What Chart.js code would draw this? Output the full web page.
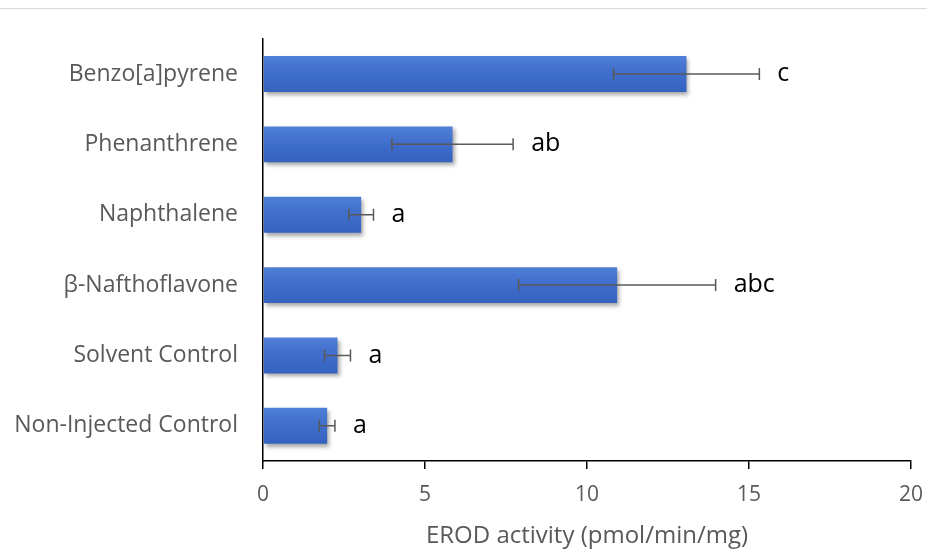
<!DOCTYPE html>
<html>
<head>
<meta charset="utf-8">
<script src="https://cdn.jsdelivr.net/npm/chart.js@4"></script>
<style>
  html, body { margin: 0; padding: 0; background: #fff; }
  #wrap { position: relative; width: 927px; height: 553px; }
  #wrap:before { content: ''; position: absolute; left: 0; right: 0; top: 8px; border-top: 1px solid #d9d9d9; }
</style>
</head>
<body>
<div id="wrap"><canvas id="chart" width="927" height="553"></canvas></div>
<script>
// values
const categories = ['Benzo[a]pyrene', 'Phenanthrene', 'Naphthalene', 'β-Nafthoflavone', 'Solvent Control', 'Non-Injected Control'];
const erodValues = [13.07, 5.85, 3.03, 10.93, 2.30, 1.98];
const erodErrors = [2.25, 1.87, 0.38, 3.04, 0.40, 0.24];
const groupLetters = ['c', 'ab', 'a', 'abc', 'a', 'a'];
const xTicks = [0, 5, 10, 15, 20];

const FONT = '"Open Sans", Lato, sans-serif';

// soft drop shadow under the bars, like the office chart
const barShadow = {
    id: 'barShadow',
    beforeDatasetDraw: (chart) => {
        const { ctx } = chart;
        ctx.save();
        ctx.shadowColor = 'rgba(0,0,0,0.35)';
        ctx.shadowBlur = 4;
        ctx.shadowOffsetX = 2;
        ctx.shadowOffsetY = 3;
    },
    afterDatasetDraw: (chart) => {
        chart.ctx.restore();
    }
};

// error whiskers and significance letters
const errorBars = {
    id: 'errorBars',
    afterDatasetsDraw: (chart) => {
        const { ctx, scales: { x, y } } = chart;
        ctx.save();
        erodValues.forEach((v, i) => {
            const yPix = y.getPixelForValue(i);
            const lo = x.getPixelForValue(v - erodErrors[i]);
            const hi = x.getPixelForValue(v + erodErrors[i]);
            ctx.strokeStyle = '#595959';
            ctx.lineWidth = 1.5;
            ctx.beginPath();
            ctx.moveTo(lo, yPix);
            ctx.lineTo(hi, yPix);
            ctx.moveTo(lo, yPix - 6);
            ctx.lineTo(lo, yPix + 6);
            ctx.moveTo(hi, yPix - 6);
            ctx.lineTo(hi, yPix + 6);
            ctx.stroke();

            ctx.fillStyle = '#000';
            ctx.font = '25px ' + FONT;
            ctx.textAlign = 'left';
            ctx.textBaseline = 'middle';
            ctx.fillText(groupLetters[i], hi + 18, yPix);
        });
        ctx.restore();
    }
};

new Chart(document.getElementById('chart'), {
    type: 'bar',
    data: {
        labels: categories,
        datasets: [{
            data: erodValues,
            backgroundColor: (c) => {
                const area = c.chart.chartArea;
                if (!area) return '#4472C4';
                const yPix = c.chart.scales.y.getPixelForValue(c.dataIndex);
                const g = c.chart.ctx.createLinearGradient(0, yPix - 18, 0, yPix + 18);
                g.addColorStop(0, '#4F7FD6');
                g.addColorStop(0.5, '#3F6DCB');
                g.addColorStop(1, '#3562BF');
                return g;
            },
            borderWidth: 0,
            barPercentage: 0.51,
            categoryPercentage: 1
        }]
    },
    options: {
        indexAxis: 'y',
        responsive: false,
        animation: false,
        devicePixelRatio: 1,
        layout: { padding: { top: 38, right: 0, left: 0, bottom: 0 } },
        plugins: {
            legend: { display: false },
            tooltip: { enabled: false }
        },
        scales: {
            x: {
                min: 0,
                max: 20,
                afterBuildTicks: (scale) => { scale.ticks = xTicks.map(v => ({ value: v })); },
                afterFit: (scale) => {
                    scale.height = 92;
                    scale.paddingLeft = 0;
                    scale.paddingRight = 16;
                },
                border: { display: true, color: '#000', width: 1.5 },
                grid: { drawOnChartArea: false, drawTicks: true, tickLength: 8, color: '#000', lineWidth: 1.5 },
                ticks: { color: '#595959', font: { family: FONT, size: 21 }, padding: 13 },
                title: {
                    display: true,
                    text: 'EROD activity (pmol/min/mg)',
                    color: '#595959',
                    font: { family: FONT, size: 24 },
                    padding: { top: 0, bottom: 2 }
                }
            },
            y: {
                afterFit: (scale) => { scale.width = 263; },
                border: { display: true, color: '#000', width: 1.5 },
                grid: { display: false, drawTicks: false },
                ticks: { color: '#595959', font: { family: FONT, size: 23 }, padding: 25 }
            }
        }
    },
    plugins: [barShadow, errorBars]
});
</script>
</body>
</html>
